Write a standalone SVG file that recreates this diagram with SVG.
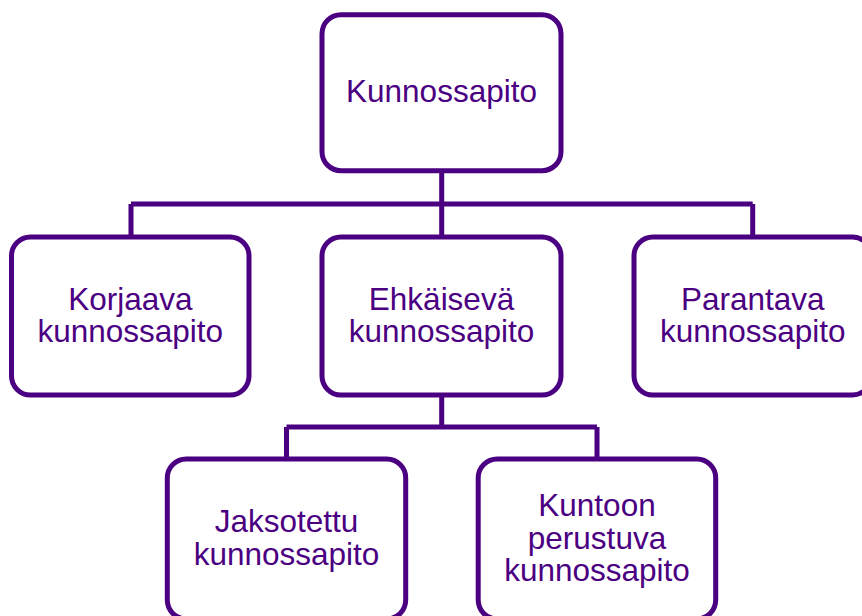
<svg xmlns="http://www.w3.org/2000/svg" width="862" height="616" viewBox="0 0 862 616">
<style>
.box{fill:#fff;stroke:#4B0082;stroke-width:5}
.conn{fill:none;stroke:#4B0082;stroke-width:5}
text{font-family:"Liberation Sans",Arial,sans-serif;font-size:31.5px;fill:#4B0082;text-anchor:middle}
</style>
<rect width="862" height="616" fill="#fff"/>
<g id="connectors">
<path class="conn" d="M441.7 171 V204 M131 204 H752.7 M131 204 V237 M441.7 204 V237 M752.7 204 V237"/>
<path class="conn" d="M441.7 395 V427 M286.5 427 H597 M286.5 427 V459 M597 427 V459"/>
</g>
<g id="n-root">
<rect class="box" x="322" y="14.7" width="239" height="156" rx="19"/>
<text x="441.5" y="102">Kunnossapito</text>
</g>
<g id="n-korjaava">
<rect class="box" x="11.5" y="237" width="237.5" height="158" rx="19"/>
<text x="130.3" y="309.5">Korjaava</text>
<text x="130.3" y="341.5">kunnossapito</text>
</g>
<g id="n-ehkaiseva">
<rect class="box" x="322" y="237" width="239" height="158" rx="19"/>
<text x="441.5" y="309.5">Ehkäisevä</text>
<text x="441.5" y="341.5">kunnossapito</text>
</g>
<g id="n-parantava">
<rect class="box" x="634" y="237" width="237.5" height="158" rx="19"/>
<text x="752.7" y="309.5">Parantava</text>
<text x="752.7" y="341.5">kunnossapito</text>
</g>
<g id="n-jaksotettu">
<rect class="box" x="167.3" y="459" width="238.4" height="160" rx="19"/>
<text x="286.5" y="531.5">Jaksotettu</text>
<text x="286.5" y="564.5">kunnossapito</text>
</g>
<g id="n-kuntoon">
<rect class="box" x="478.2" y="459" width="237.5" height="160" rx="19"/>
<text x="597" y="516">Kuntoon</text>
<text x="597" y="548.5">perustuva</text>
<text x="597" y="581">kunnossapito</text>
</g>
</svg>
